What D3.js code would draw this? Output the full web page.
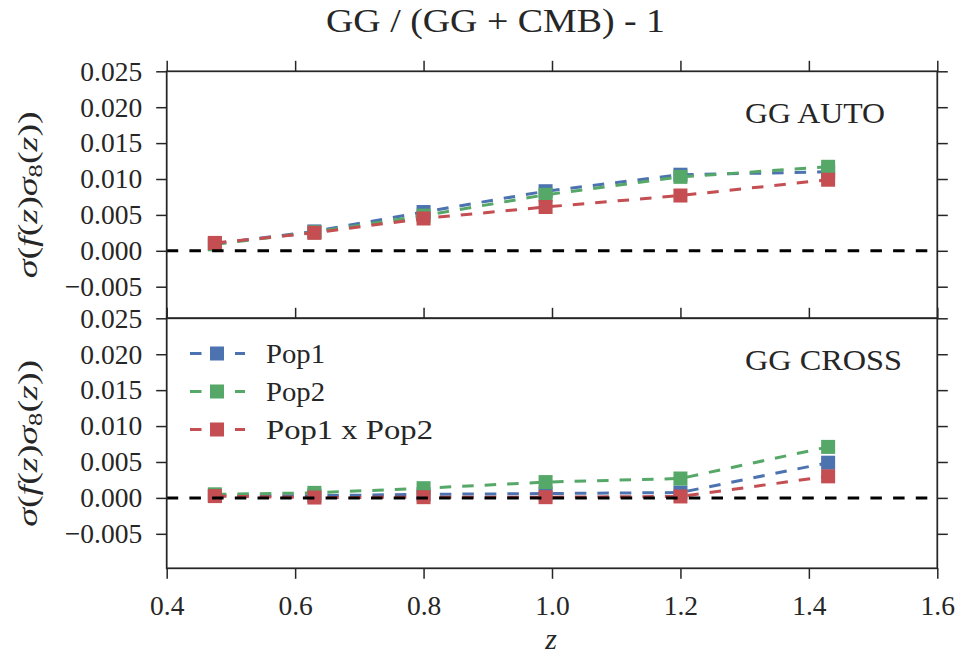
<!DOCTYPE html>
<html>
<head>
<meta charset="utf-8">
<script src="https://cdn.jsdelivr.net/npm/d3@7/dist/d3.min.js"></script>
<style>
  html, body { margin: 0; padding: 0; background: #fff; }
  svg { display: block; }
  text { font-family: "Liberation Serif", "DejaVu Serif", serif; fill: #262626; }
</style>
</head>
<body>
<svg id="chart" width="958" height="657"></svg>
<script>
// ---- data ----
const zValues = [0.475, 0.63, 0.80, 0.99, 1.20, 1.43];
const seriesNames = ["Pop1", "Pop2", "Pop1 x Pop2"];
const seriesColors = ["#4C72B0", "#55A868", "#C44E52"];
const autoPop1  = [0.0010, 0.0027, 0.0054, 0.0083, 0.0106, 0.0110];
const autoPop2  = [0.0009, 0.0026, 0.0049, 0.0078, 0.0103, 0.0117];
const autoCross = [0.0011, 0.0025, 0.0045, 0.0061, 0.0077, 0.0099];
const crossPop1  = [0.0003, 0.0003, 0.0005, 0.0006, 0.00075, 0.0049];
const crossPop2  = [0.0005, 0.0007, 0.00135, 0.0022, 0.0027, 0.0071];
const crossCross = [0.00025, 0.00005, 0.0001, 0.0001, 0.0002, 0.0030];
const xTicks = [0.4, 0.6, 0.8, 1.0, 1.2, 1.4, 1.6];
const yTicks = [-0.005, 0.000, 0.005, 0.010, 0.015, 0.020, 0.025];
const panelLabels = ["GG AUTO", "GG CROSS"];
const titleText = "GG / (GG + CMB) - 1";

const svg = d3.select("#chart");
svg.append("rect").attr("width", 958).attr("height", 657).attr("fill", "#fff");

const left = 166.7, right = 937.3;
const x = d3.scaleLinear().domain([0.4, 1.6]).range([left, right]);

const panels = [
  { top: 71.3, bottom: 318.3, yMin: -0.0094, data: [autoPop1, autoPop2, autoCross], label: panelLabels[0], labelY: 122.7, labelLen: 140, legend: false, topTicks: true, bottomTicks: false },
  { top: 318.3, bottom: 568.3, yMin: -0.0098, data: [crossPop1, crossPop2, crossCross], label: panelLabels[1], labelY: 370, labelLen: 157, legend: true, topTicks: true, bottomTicks: true }
];

const spineColor = "#262626";
const tickLen = 10.5;
const fmt = d => (d < 0 ? "\u2212" : "") + d3.format(".3f")(Math.abs(d));
const legendLens = [59, 59, 167];

panels.forEach((p, pi) => {
  const y = d3.scaleLinear().domain([p.yMin, 0.025]).range([p.bottom, p.top]);
  const g = svg.append("g");
  g.append("rect").attr("x", left).attr("y", p.top).attr("width", right - left).attr("height", p.bottom - p.top).attr("fill", "#fff");

  const clipId = "clip" + pi;
  svg.append("clipPath").attr("id", clipId).append("rect")
    .attr("x", left).attr("y", p.top).attr("width", right - left).attr("height", p.bottom - p.top);
  const plot = g.append("g").attr("clip-path", `url(#${clipId})`);

  p.data.forEach((vals, si) => {
    const pts = zValues.map((z, i) => [z, vals[i]]);
    plot.append("path")
      .attr("d", d3.line().x(d => x(d[0])).y(d => y(d[1]))(pts))
      .attr("fill", "none").attr("stroke", seriesColors[si])
      .attr("stroke-width", 3).attr("stroke-dasharray", "11.5,11");
    plot.selectAll(null).data(pts).enter().append("rect")
      .attr("x", d => x(d[0]) - 7).attr("y", d => y(d[1]) - 7)
      .attr("width", 14).attr("height", 14).attr("fill", seriesColors[si]);
  });

  plot.append("line").attr("x1", x(0.4)).attr("x2", x(1.6)).attr("y1", y(0)).attr("y2", y(0))
    .attr("stroke", "#000").attr("stroke-width", 3).attr("stroke-dasharray", "11.5,11.2");

  const yAxisL = d3.axisLeft(y).tickValues(yTicks).tickSize(tickLen).tickPadding(14).tickFormat(fmt);
  const yAxisR = d3.axisRight(y).tickValues(yTicks).tickSize(tickLen).tickFormat("");
  const xAxisT = d3.axisTop(x).tickValues(xTicks).tickSize(tickLen).tickFormat("");
  const xAxisB = d3.axisBottom(x).tickValues(xTicks).tickSize(tickLen).tickPadding(17).tickFormat(d3.format(".1f"));

  const styleAxis = sel => {
    sel.selectAll(".domain").remove();
    sel.selectAll(".tick line").attr("stroke", spineColor).attr("stroke-width", 1.5);
    sel.selectAll(".tick text").attr("font-family", "Liberation Serif, serif").attr("font-size", 27.5).attr("fill", spineColor);
  };
  g.append("g").attr("transform", `translate(${left},0)`).call(yAxisL).call(styleAxis);
  g.append("g").attr("transform", `translate(${right},0)`).call(yAxisR).call(styleAxis);
  if (p.topTicks) g.append("g").attr("transform", `translate(0,${p.top})`).call(xAxisT).call(styleAxis);
  if (p.bottomTicks) {
    const xb = g.append("g").attr("transform", `translate(0,${p.bottom})`).call(xAxisB).call(styleAxis);
    xb.selectAll(".tick text").attr("dy", "0.71em");
  }

  g.append("rect").attr("x", left).attr("y", p.top).attr("width", right - left).attr("height", p.bottom - p.top)
    .attr("fill", "none").attr("stroke", spineColor).attr("stroke-width", 1.75);

  g.append("text").attr("x", 745).attr("y", p.labelY).attr("font-size", 30)
    .attr("textLength", p.labelLen).attr("lengthAdjust", "spacingAndGlyphs").text(p.label);

  const cy = (p.top + p.bottom) / 2;
  const yl = g.append("text").attr("transform", `translate(37,${cy}) rotate(-90)`)
    .attr("text-anchor", "middle").attr("font-size", 27)
    .attr("textLength", 167).attr("lengthAdjust", "spacingAndGlyphs");
  yl.append("tspan").attr("font-style", "italic").text("σ");
  yl.append("tspan").text("(");
  yl.append("tspan").attr("font-style", "italic").text("f");
  yl.append("tspan").text("(");
  yl.append("tspan").attr("font-style", "italic").text("z");
  yl.append("tspan").text(")");
  yl.append("tspan").attr("font-style", "italic").text("σ");
  yl.append("tspan").attr("font-size", 19).attr("dy", 5).text("8");
  yl.append("tspan").attr("dy", -5).text("(");
  yl.append("tspan").attr("font-style", "italic").text("z");
  yl.append("tspan").text("))");

  if (p.legend) {
    seriesNames.forEach((name, si) => {
      const ly = 353.5 + si * 38;
      g.append("line").attr("x1", 190).attr("x2", 245).attr("y1", ly).attr("y2", ly)
        .attr("stroke", seriesColors[si]).attr("stroke-width", 3).attr("stroke-dasharray", "11.5,11");
      g.append("rect").attr("x", 210).attr("y", ly - 7).attr("width", 14).attr("height", 14).attr("fill", seriesColors[si]);
      g.append("text").attr("x", 266).attr("y", ly + 9.5).attr("font-size", 28)
        .attr("textLength", legendLens[si]).attr("lengthAdjust", "spacingAndGlyphs").text(name);
    });
  }
});

svg.append("text").attr("x", 495.5).attr("y", 32).attr("text-anchor", "middle")
  .attr("font-size", 34).attr("textLength", 339).attr("lengthAdjust", "spacingAndGlyphs").text(titleText);

svg.append("text").attr("x", 551).attr("y", 649).attr("text-anchor", "middle")
  .attr("font-size", 30).attr("font-style", "italic").text("z");
</script>
</body>
</html>
